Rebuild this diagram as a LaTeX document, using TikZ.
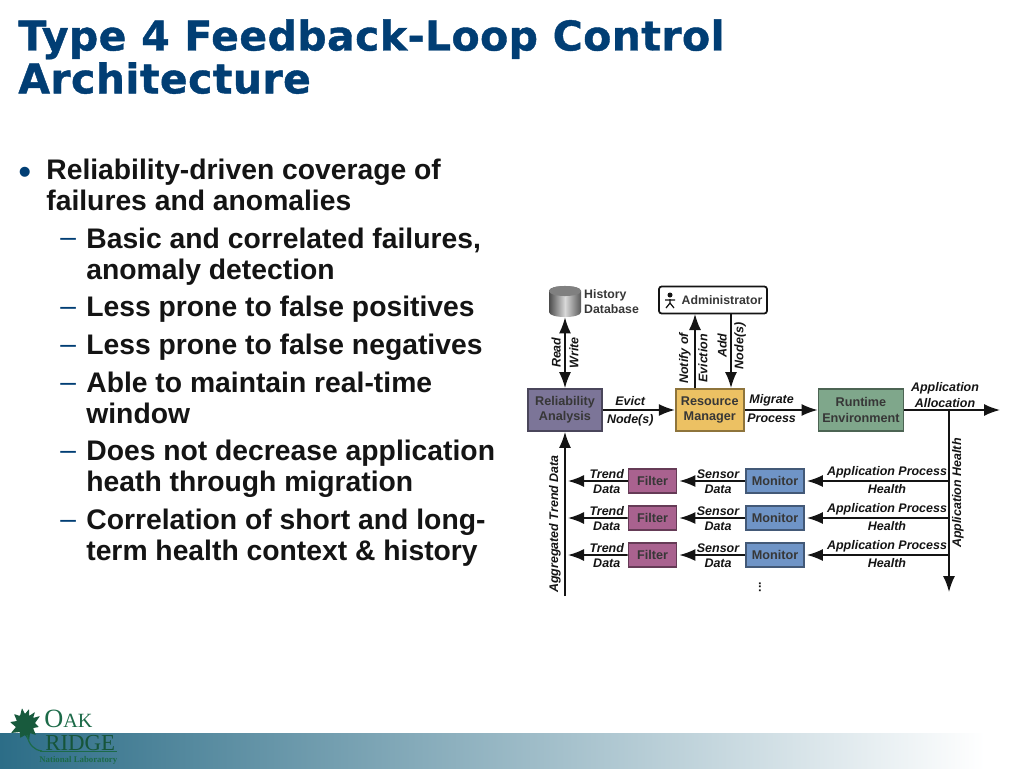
\documentclass[tikz,border=0pt]{standalone}
\usepackage{fontspec}
\usepackage{xcolor}
\usepackage{tikz}
\usetikzlibrary{arrows.meta, positioning}
\setmainfont{Liberation Sans}
\newfontfamily\titlefont[BoldFeatures={LetterSpace=1.1,FakeBold=1}]{DejaVu Sans}
\newfontfamily\logofont{Liberation Serif}
\definecolor{primary}{HTML}{013e74}
\definecolor{bodytext}{HTML}{141414}
\definecolor{relia}{HTML}{7c7598}
\definecolor{resmgr}{HTML}{ecc163}
\definecolor{runtime}{HTML}{7fa78b}
\definecolor{monitor}{HTML}{6f94c6}
\definecolor{filter}{HTML}{a9628f}
\definecolor{band}{HTML}{2c6d87}
\definecolor{oakgreen}{HTML}{1c6a48}

\begin{document}
\begin{tikzpicture}[x=0.02cm, y=-0.02cm, node distance=1.44cm, >={Latex[length=0.32cm,width=0.24cm]}]
  \tikzstyle{blk}=[rectangle, minimum height=0.84cm, inner sep=0pt, text centered, align=center,
                   line width=1pt, font=\fontsize{7.2}{8.6}\selectfont\bfseries\color{bodytext!85}]
  \tikzstyle{sblk}=[blk, minimum height=0.47cm, minimum width=0.96cm]
  \tikzstyle{arr}=[->, line width=0.9pt, color=bodytext]
  \tikzstyle{lbl}=[font=\fontsize{7.1}{8.4}\selectfont\bfseries\itshape\color{bodytext}, inner sep=1pt, align=center]
  \tikzstyle{listitem}=[anchor=north west, inner sep=0pt, align=left, font=\fontsize{16.1}{17.4}\selectfont\bfseries\color{bodytext}]
  \tikzstyle{listmark}=[anchor=base west, inner sep=0pt, font=\fontsize{16}{17.4}\selectfont\color{primary}]
  \useasboundingbox (0,0) rectangle (1024,768);
  % footer band and logo
  \shade[left color=band, right color=white] (0,733) rectangle (985,768);
  \fill[oakgreen!85!black, rounded corners=0.4pt] (22,708) -- (25,714) -- (29,709) -- (29,716) -- (35,712) -- (33,718) -- (40,716) -- (35,723) -- (39,727)
    -- (33,728) -- (36,735) -- (30,733) -- (29,741) -- (25,735) -- (20,738) -- (20,732) -- (11,733)
    -- (16,727) -- (10,722) -- (17,721) -- (14,714) -- (20,716) -- cycle;
  \draw[oakgreen, line width=0.7pt] (27,735) .. controls (29,745) and (34,750) .. (42,751);
  \node[anchor=base west, inner sep=0pt, text=oakgreen, font=\logofont\fontsize{15}{15}\selectfont] (oak) at (44,727) {O\fontsize{11.5}{12}\selectfont AK};
  \node[anchor=base west, inner sep=0pt, text=oakgreen!80!black, font=\logofont\fontsize{13}{13}\selectfont] (ridge) at (45,750) {RIDGE};
  \fill[oakgreen] (40,751) rectangle (117,752);
  \node[anchor=base west, inner sep=0pt, text=oakgreen, font=\logofont\bfseries\fontsize{5}{5}\selectfont] (natlab) at (39,762) {National Laboratory};
  % title
  \node[anchor=north west, inner sep=0pt, align=left, text=primary, font=\titlefont\bfseries\fontsize{23.3}{24.4}\selectfont] (title) at (18,19) {Type 4 Feedback-Loop Control\\Architecture};
  % bullet list
  \node[listmark, font=\fontsize{21}{21}\selectfont\color{primary}] (bul1) at (18,184) {\textbullet};
  \node[listitem] (txt1) at (46,159) {Reliability-driven coverage of\\failures and anomalies};
  \node[listmark] (bul2) at (60,246) {--};
  \node[listitem] (txt2) at (86,228) {Basic and correlated failures,\\anomaly detection};
  \node[listmark] (bul3) at (60,315) {--};
  \node[listitem] (txt3) at (86,296) {Less prone to false positives};
  \node[listmark] (bul4) at (60,353) {--};
  \node[listitem] (txt4) at (86,334) {Less prone to false negatives};
  \node[listmark] (bul5) at (60,391) {--};
  \node[listitem] (txt5) at (86,372) {Able to maintain real-time\\window};
  \node[listmark] (bul6) at (60,459) {--};
  \node[listitem] (txt6) at (86,440) {Does not decrease application\\heath through migration};
  \node[listmark] (bul7) at (60,528) {--};
  \node[listitem] (txt7) at (86,509) {Correlation of short and long-\\term health context \& history};
  % top row
  \node[blk, minimum width=1.48cm, draw=relia!60!black, fill=relia](RA) at (565,410){Reliability\\Analysis};
  \node[blk, minimum width=1.36cm, draw=resmgr!60!black, fill=resmgr, right=of RA](RM){Resource\\Manager};
  \node[blk, minimum width=1.7cm, draw=runtime!60!black, fill=runtime, right=1.46cm of RM](RE){Runtime\\Environment};
  % database drum
  \shade[left color=black!70, right color=black!65, middle color=black!15] (549,291) -- (549,312) .. controls (549,318.7) and (581,318.7) .. (581,312)
    -- (581,291) .. controls (581,284.3) and (549,284.3) .. (549,291) -- cycle;
  \fill[black!50] (549,291) .. controls (549,297.7) and (581,297.7) .. (581,291) .. controls (581,284.3) and (549,284.3) .. (549,291) -- cycle;
  \node[minimum width=0.64cm, minimum height=0.62cm, inner sep=0pt](DB) at (565,301.5){};
  \node[right=0.05cm of DB, inner sep=0pt, align=left, font=\fontsize{7}{8.8}\selectfont\bfseries\color{bodytext!85}](DBtxt){History\\Database};
  \node[blk, minimum width=2.16cm, minimum height=0.54cm, draw=bodytext, fill=white, rounded corners=1.5pt, font=\fontsize{7}{8}\selectfont\bfseries\color{bodytext!85}](AD) at (713,300){\hspace{0.36cm}Administrator};
  \draw[bodytext, line width=0.7pt] (670,299) -- (670,303) (665,300) -- (675,300) (670,303) -- (666,308) (670,303) -- (674,308);
  \fill[bodytext] (670,295) circle (2.5);
  % top connectors
  \draw[<->, line width=0.9pt, color=bodytext](DB)--node[lbl, rotate=90, left=1pt, anchor=south]{Read} node[lbl, rotate=90, right=1pt, anchor=north]{Write}(RA);
  \coordinate (ADnotify) at (695,314);
  \coordinate (RMnotify) at (695,388);
  \coordinate (ADadd) at (731,314);
  \coordinate (RMadd) at (731,388);
  \draw[arr](RMnotify)--node[lbl, rotate=90, left=1pt, anchor=south, pos=0.4]{Notify of} node[lbl, rotate=90, right=0.5pt, anchor=north, pos=0.4]{Eviction}(ADnotify);
  \draw[arr](ADadd)--node[lbl, rotate=90, left=1pt, anchor=south, pos=0.43]{Add} node[lbl, rotate=90, right=0.5pt, anchor=north, pos=0.43]{Node(s)}(RMadd);
  \draw[arr](RA)--node[lbl, above=1pt, pos=0.38]{Evict} node[lbl, below=1pt, pos=0.38]{Node(s)}(RM);
  \draw[arr](RM)--node[lbl, above=1pt, pos=0.37]{Migrate} node[lbl, below=1pt, pos=0.37]{Process}(RE);
  \coordinate (allocend) at (1000,410);
  \coordinate (healthtop) at (949,410);
  \coordinate (healthend) at (949,592);
  \draw[arr](RE)--(allocend);
  \node[lbl, above=0cm of healthtop, xshift=-0.08cm](alloc){Application\\[0.6pt]Allocation};
  \draw[arr](healthtop)--(healthend);
  \node[lbl, rotate=90](healthlbl) at (958,493){Application Health};
  % filter and monitor rows
  \node[sblk, draw=filter!60!black, fill=filter](F1) at (652.5,481){Filter};
  \node[sblk, draw=filter!60!black, fill=filter, below=0.235cm of F1](F2){Filter};
  \node[sblk, draw=filter!60!black, fill=filter, below=0.235cm of F2](F3){Filter};
  \node[sblk, minimum width=1.16cm, draw=monitor!60!black, fill=monitor](M1) at (775,481){Monitor};
  \node[sblk, minimum width=1.16cm, draw=monitor!60!black, fill=monitor, below=0.235cm of M1](M2){Monitor};
  \node[sblk, minimum width=1.16cm, draw=monitor!60!black, fill=monitor, below=0.235cm of M2](M3){Monitor};
  \coordinate (aggbot) at (565,596);
  \coordinate (T1) at (568,481);
  \coordinate (T2) at (568,518);
  \coordinate (T3) at (568,555);
  \coordinate (H1) at (949,481);
  \coordinate (H2) at (949,518);
  \coordinate (H3) at (949,555);
  \draw[arr](aggbot)--(RA);
  \node[lbl, rotate=90](agglbl) at (555,524){Aggregated Trend Data};
  \draw[arr](F1)--node[lbl, above=0pt, pos=0.35]{Trend} node[lbl, below=0.5pt, pos=0.35]{Data}(T1);
  \draw[arr](F2)--node[lbl, above=0pt, pos=0.35]{Trend} node[lbl, below=0.5pt, pos=0.35]{Data}(T2);
  \draw[arr](F3)--node[lbl, above=0pt, pos=0.35]{Trend} node[lbl, below=0.5pt, pos=0.35]{Data}(T3);
  \draw[arr, shorten >=0.04cm](M1)--node[lbl, above=0pt, pos=0.4]{Sensor} node[lbl, below=0.5pt, pos=0.4]{Data}(F1);
  \draw[arr, shorten >=0.04cm](M2)--node[lbl, above=0pt, pos=0.4]{Sensor} node[lbl, below=0.5pt, pos=0.4]{Data}(F2);
  \draw[arr, shorten >=0.04cm](M3)--node[lbl, above=0pt, pos=0.4]{Sensor} node[lbl, below=0.5pt, pos=0.4]{Data}(F3);
  \draw[arr, shorten >=0.04cm](H1)--node[lbl, above=0pt, pos=0.43]{Application Process} node[lbl, below=0.5pt, pos=0.43]{Health}(M1);
  \draw[arr, shorten >=0.04cm](H2)--node[lbl, above=0pt, pos=0.43]{Application Process} node[lbl, below=0.5pt, pos=0.43]{Health}(M2);
  \draw[arr, shorten >=0.04cm](H3)--node[lbl, above=0pt, pos=0.43]{Application Process} node[lbl, below=0.5pt, pos=0.43]{Health}(M3);
  \node[inner sep=0pt, font=\fontsize{7}{7}\selectfont\bfseries\color{bodytext}, rotate=90](dots) at (760,587){...};
\end{tikzpicture}
\end{document}
